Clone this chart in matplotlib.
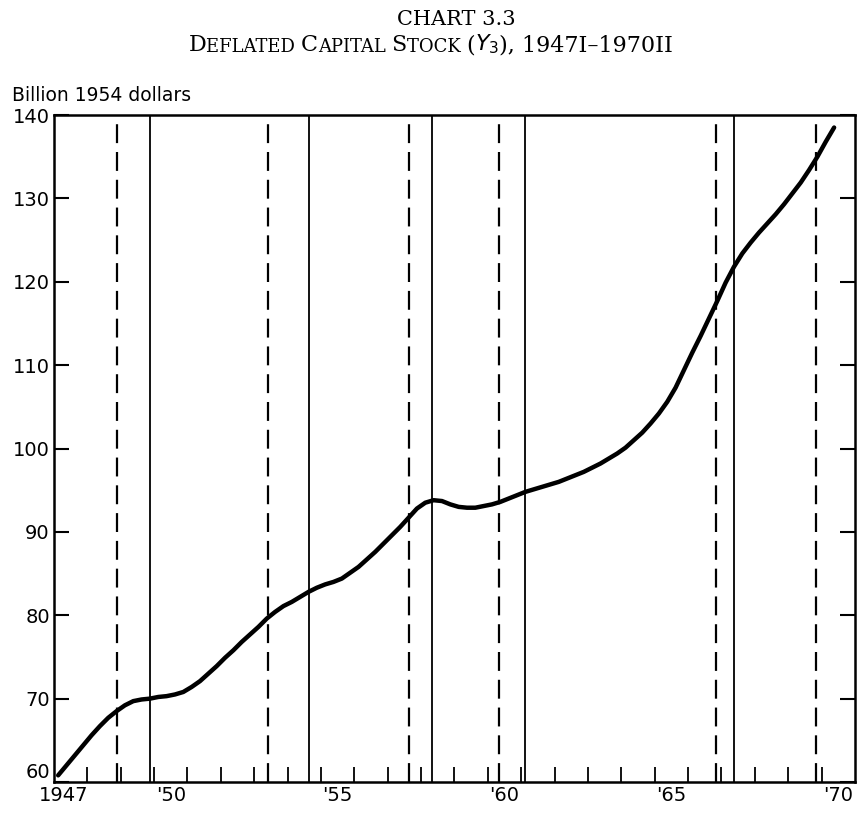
import numpy as np
import matplotlib.pyplot as plt

# quarterly values, 1947I - 1970II (billion 1954 dollars)
years = list(range(1947, 1971))
capital = [
    60.8, 62.0, 63.2, 64.4,
    65.6, 66.7, 67.7, 68.5,
    69.2, 69.7, 69.9, 70.0,
    70.2, 70.3, 70.5, 70.8,
    71.4, 72.1, 73.0, 73.9,
    74.9, 75.8, 76.8, 77.7,
    78.6, 79.6, 80.4, 81.1,
    81.6, 82.2, 82.8, 83.3,
    83.7, 84.0, 84.4, 85.1,
    85.8, 86.7, 87.6, 88.6,
    89.6, 90.6, 91.7, 92.8,
    93.5, 93.8, 93.7, 93.3,
    93.0, 92.9, 92.9, 93.1,
    93.3, 93.6, 94.0, 94.4,
    94.8, 95.1, 95.4, 95.7,
    96.0, 96.4, 96.8, 97.2,
    97.7, 98.2, 98.8, 99.4,
    100.1, 101.0, 101.9, 103.0,
    104.2, 105.6, 107.3, 109.4,
    111.5, 113.5, 115.6, 117.7,
    119.9, 121.8, 123.4, 124.7,
    125.9, 127.0, 128.1, 129.3,
    130.6, 131.9, 133.4, 135.0,
    136.8, 138.5,
]

# turning points (peaks dashed, troughs solid)
peaks = [1948.9, 1953.4, 1957.63, 1960.33, 1966.85, 1969.83]
troughs = [1949.87, 1954.65, 1958.32, 1961.1, 1967.38]

xlabels = ["1947", "'50", "'55", "'60", "'65", "'70"]
xlabel_pos = [1947.3, 1950.5, 1955.5, 1960.5, 1965.5, 1970.5]
yticks = [60, 70, 80, 90, 100, 110, 120, 130, 140]

n = len(capital)
t = 1947 + (np.arange(n) + 0.5) / 4.0

fig = plt.figure(figsize=(8.61, 8.14), dpi=100)
ax = fig.add_axes([0.0627, 0.0393, 0.9303, 0.8194])

for p in peaks:
    ax.axvline(p, color='black', lw=1.6, dashes=(8.5, 4))
for tr in troughs:
    ax.axvline(tr, color='black', lw=1.3)

ax.plot(t, capital, color='black', lw=3.2, solid_capstyle='round')

ax.set_xlim(1947, 1971)
ax.set_ylim(60, 140)

ax.set_xticks(range(1948, 1971))
ax.set_xticklabels([])
ax.tick_params(axis='x', which='major', direction='in', length=11, width=1.3)
ax.set_xticks(xlabel_pos, minor=True)
ax.set_xticklabels(xlabels, minor=True)
ax.tick_params(axis='x', which='minor', length=0, labelsize=14, pad=3)

ax.set_yticks(yticks)
ax.tick_params(axis='y', direction='in', length=11, width=1.5, right=True,
               labelsize=14, pad=3)
ax.get_yticklabels()[0].set_verticalalignment('bottom')

for s in ax.spines.values():
    s.set_linewidth(1.8)

fig.text(0.014, 0.876, 'Billion 1954 dollars', fontsize=13.5, ha='left', va='baseline')

fig.text(0.53, 0.9693, 'CHART 3.3', fontsize=15, family='DejaVu Serif',
         ha='center', va='baseline')

# subtitle in small caps, built from pieces
parts = [('D', 16), ('EFLATED ', 13), ('C', 16), ('APITAL ', 13), ('S', 16),
         ('TOCK ', 13), ('(', 16), ('$Y_3$', 16), ('), 1947I\u20131970II', 16)]
txt = fig.text(0.219, 0.9373, parts[0][0], fontsize=parts[0][1],
               family='DejaVu Serif', ha='left', va='baseline')
for s, fs in parts[1:]:
    txt = ax.annotate(s, xy=(1, 0), xycoords=txt, fontsize=fs,
                      family='DejaVu Serif', ha='left', va='bottom',
                      annotation_clip=False)

fig.savefig('out.png', dpi=100)
